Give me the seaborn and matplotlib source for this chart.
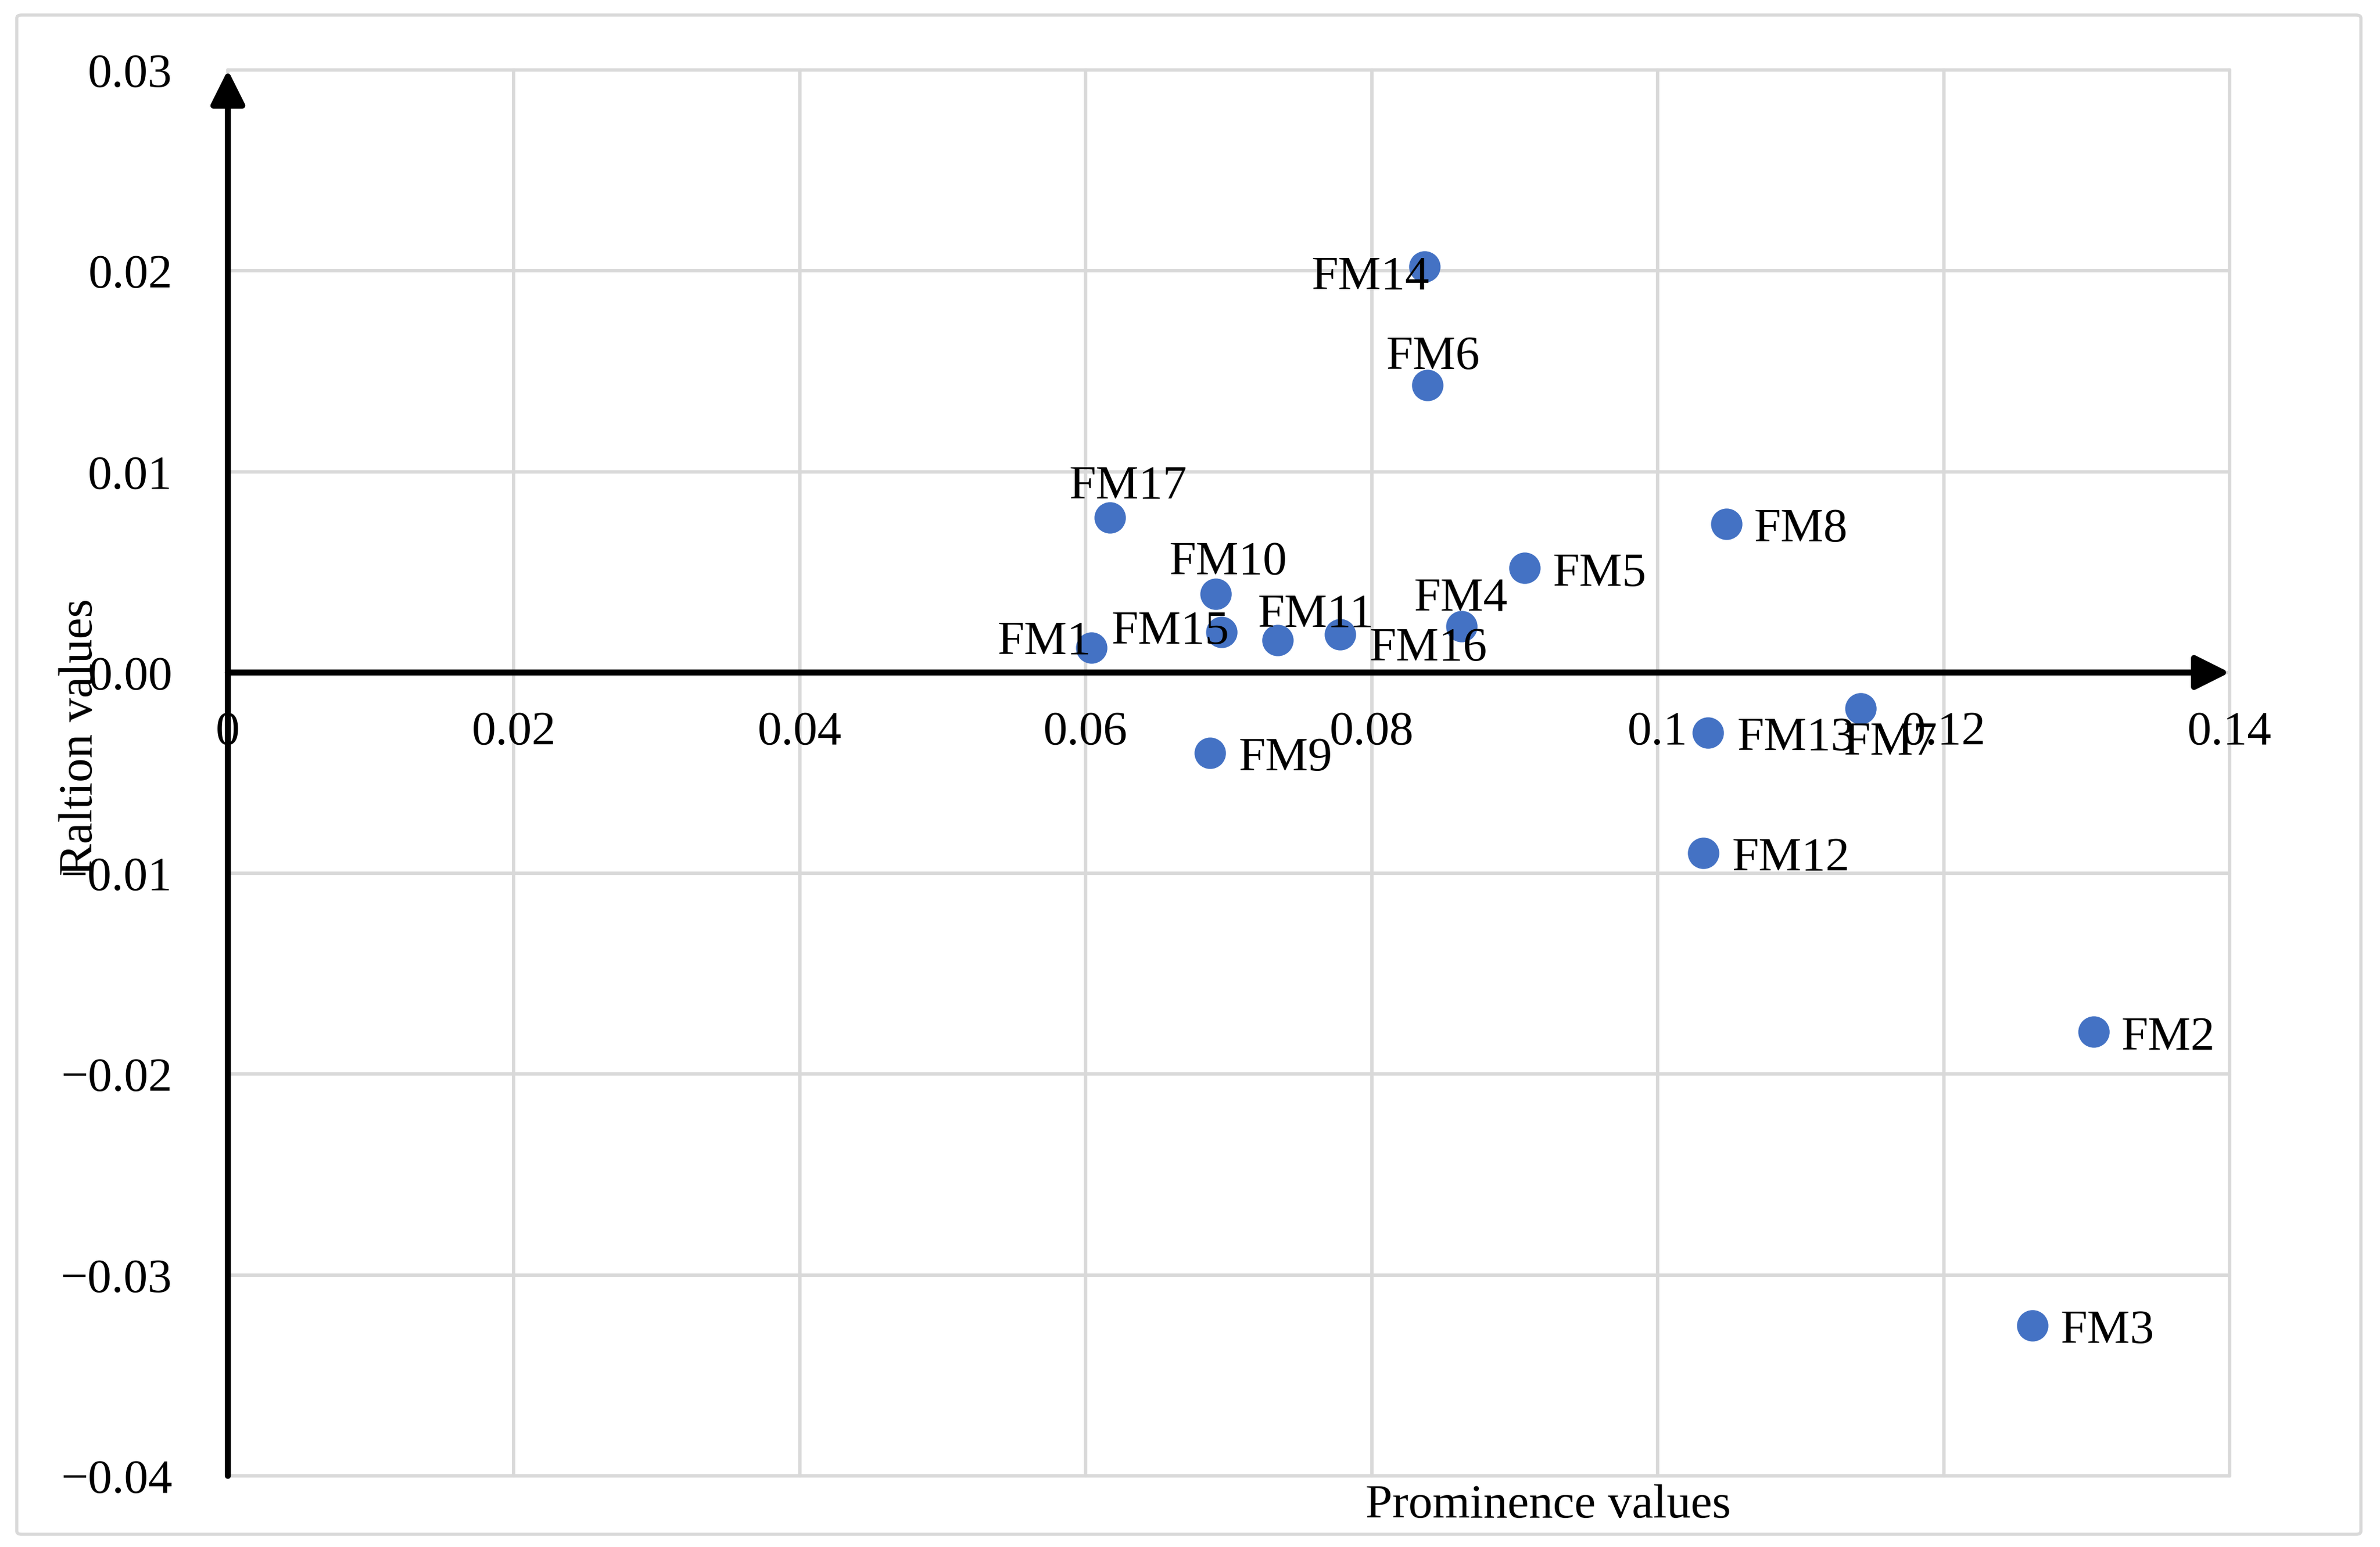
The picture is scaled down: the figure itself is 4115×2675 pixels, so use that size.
import pandas as pd
import matplotlib.pyplot as plt
import seaborn as sns
from matplotlib.patches import FancyBboxPatch

# Values
factors = ["FM1", "FM2", "FM3", "FM4", "FM5", "FM6", "FM7", "FM8", "FM9",
           "FM10", "FM11", "FM12", "FM13", "FM14", "FM15", "FM16", "FM17"]
prominence = [0.0604, 0.1305, 0.1262, 0.0863, 0.0907, 0.0839, 0.1142, 0.1048, 0.0687,
              0.0691, 0.0734, 0.1032, 0.1035, 0.0837, 0.0695, 0.0778, 0.0617]
relation = [0.00124, -0.0179, -0.0325, 0.0023, 0.0052, 0.0143, -0.0018, 0.0074, -0.0040,
            0.0039, 0.0016, -0.0090, -0.0030, 0.0202, 0.0020, 0.0019, 0.0077]

x_ticks = [0, 0.02, 0.04, 0.06, 0.08, 0.10, 0.12, 0.14]
x_tick_labels = ["0", "0.02", "0.04", "0.06", "0.08", "0.1", "0.12", "0.14"]
y_ticks = [0.03, 0.02, 0.01, 0.0, -0.01, -0.02, -0.03, -0.04]
y_tick_labels = ["0.03", "0.02", "0.01", "0.00", "\u22120.01", "\u22120.02", "\u22120.03", "\u22120.04"]

# label offsets in points (left edge / baseline relative to marker centre)
label_offsets = {
    "FM1": (-38.9, -2.6), "FM2": (11.5, -7.4), "FM3": (11.8, -7.4), "FM4": (-19.9, 6.5),
    "FM5": (11.5, -7.4), "FM6": (-17.2, 6.7), "FM7": (-7.0, -19.0), "FM8": (11.5, -7.2),
    "FM9": (11.8, -7.2), "FM10": (-19.4, 8.2), "FM11": (-8.2, 5.8), "FM12": (11.9, -7.2),
    "FM13": (12.2, -7.2), "FM14": (-47.0, -9.1), "FM15": (-45.8, -4.8), "FM16": (12.0, -10.8),
    "FM17": (-17.0, 8.2),
}

df = pd.DataFrame({"factor": factors, "prominence": prominence, "relation": relation})

sns.set_theme(style="white", rc={"text.color": "black", "axes.labelcolor": "black",
                                 "xtick.color": "black", "ytick.color": "black",
                                 "xtick.labelsize": 20, "ytick.labelsize": 20})
plt.rcParams["font.family"] = ["Liberation Serif", "DejaVu Serif"]
plt.rcParams["font.size"] = 20

fig = plt.figure(figsize=(4115 / 300, 2675 / 300), dpi=300)
fig.patch.set_facecolor("white")
ax = fig.add_axes([0.09575, 0.04598, 0.84107, 0.90879])

# chart area border
fig.patches.append(FancyBboxPatch((29 / 4115, 22 / 2675), (4082 - 29) / 4115, (2651 - 24) / 2675,
                                  boxstyle="round,pad=0,rounding_size=0.002",
                                  transform=fig.transFigure, fill=False,
                                  edgecolor="#D9D9D9", linewidth=1.3, zorder=0))

# horizontal axis crosses at zero
ax.spines["bottom"].set_position(("data", 0))
for side in ["top", "right", "bottom", "left"]:
    ax.spines[side].set_visible(False)

sns.scatterplot(data=df, x="prominence", y="relation", color="#4472C4", s=170,
                linewidth=0, ax=ax, zorder=3)

for name, px, py in zip(factors, prominence, relation):
    dx, dy = label_offsets[name]
    ax.annotate(name, (px, py), xytext=(dx, dy), textcoords="offset points",
                ha="left", va="baseline", fontsize=20, color="black", zorder=5)

ax.set_xlim(0, 0.14)
ax.set_ylim(-0.04, 0.03)
ax.set_xticks(x_ticks)
ax.set_xticklabels(x_tick_labels, fontsize=20)
ax.set_yticks(y_ticks)
ax.set_yticklabels(y_tick_labels, fontsize=20)
ax.tick_params(axis="x", length=0, pad=16, labelsize=20)
ax.tick_params(axis="y", length=0, pad=23, labelsize=20)

ax.grid(True, color="#D9D9D9", linewidth=1.4)
ax.set_axisbelow(True)
for line in ax.get_xgridlines() + ax.get_ygridlines():
    line.set_clip_on(False)

# axes with arrow heads
arrow = dict(arrowstyle="-|>", color="black", lw=2.5, mutation_scale=30, shrinkA=0, shrinkB=0)
ax.annotate("", xy=(1, 0), xycoords=("axes fraction", "data"),
            xytext=(0, 0), textcoords=("axes fraction", "data"), arrowprops=arrow, zorder=4)
ax.annotate("", xy=(0, 1), xycoords="axes fraction",
            xytext=(0, 0), textcoords="axes fraction", arrowprops=arrow, zorder=4)

ax.set_xlabel("Prominence values", fontsize=20)
ax.xaxis.set_label_coords(0.6596, -0.0214)
ax.xaxis.label.set_va("center")
ax.set_ylabel("Raltion values", fontsize=20)
ax.yaxis.set_label_coords(-0.0735, 0.5253)
ax.yaxis.label.set_va("center")

fig.savefig("out.png", dpi=300, facecolor="white")
